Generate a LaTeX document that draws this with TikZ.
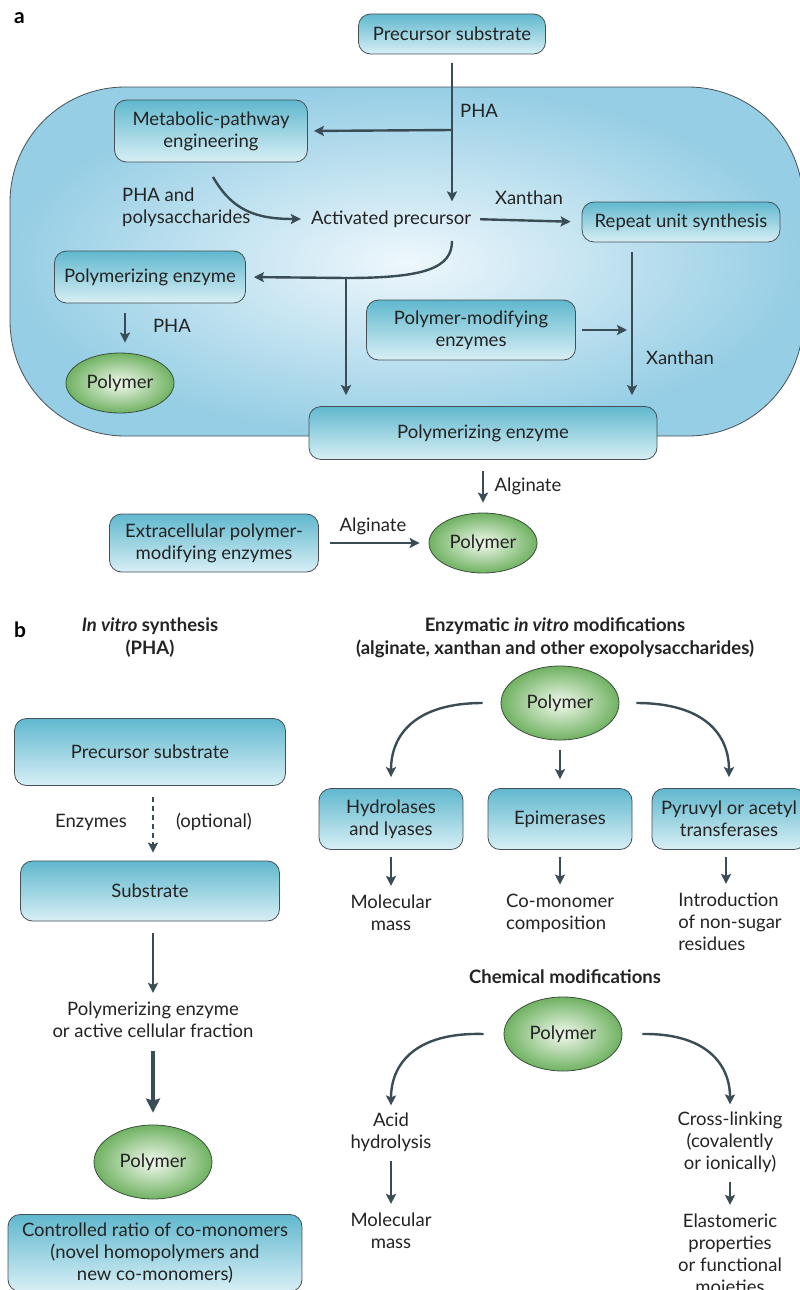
\documentclass[tikz,border=0pt]{standalone}
\usepackage{fontspec}
\setmainfont{Lato}
\usetikzlibrary{shapes.geometric,arrows.meta}
\definecolor{txt}{RGB}{35,35,35}
\definecolor{arrc}{RGB}{58,76,86}
\definecolor{boxtop}{RGB}{96,184,206}
\definecolor{boxbot}{RGB}{216,239,245}
\definecolor{boxline}{RGB}{70,80,85}
\definecolor{cellout}{RGB}{150,206,229}
\definecolor{cellin}{RGB}{238,247,252}
\definecolor{ellin}{RGB}{242,249,238}
\definecolor{ellout}{RGB}{112,178,98}
\definecolor{ellline}{RGB}{60,80,60}
\tikzset{
  box/.style={draw=boxline, line width=0.8pt, rounded corners=12pt, top color=boxtop, bottom color=boxbot, align=center, inner sep=0pt, text=txt},
  poly/.style={ellipse, draw=ellline, line width=0.8pt, inner color=ellin, outer color=ellout, inner sep=0pt, minimum width=108pt, minimum height=60pt, text=txt},
  polyb/.style={poly, minimum width=118pt, minimum height=74pt},
  lbl/.style={inner sep=0pt, text=txt, align=center},
  head/.style={inner sep=0pt, text=txt, align=center, font=\fontsize{18.5}{23}\selectfont\bfseries},
  panel/.style={inner sep=0pt, text=black, font=\fontsize{21}{24}\selectfont\bfseries},
  arr/.style={draw=arrc, line width=2.4pt, -{Stealth[length=10pt,width=10pt,inset=2pt]}},
  thickarr/.style={draw=arrc, line width=4pt, -{Stealth[length=14pt,width=14pt,inset=2pt]}},
  plain/.style={draw=arrc, line width=2.4pt}
}
\begin{document}
\begin{tikzpicture}[x=1pt,y=-1pt, font=\fontsize{18.5}{22}\selectfont]
\clip (0,0) rectangle (800,1290);
\fill[white] (0,0) rectangle (800,1290);

% ---------------- panel a ----------------
\node[panel, anchor=west] (la) at (14,18) {a};
\path[draw=boxline, line width=0.8pt, inner color=cellin, outer color=cellout, rounded corners=115pt]
  (10,87) rectangle (803,436);

\node[box, minimum width=187pt, minimum height=40pt] (ps) at (452,34) {Precursor substrate};
\node[box, minimum width=193pt, minimum height=62pt] (me) at (211,131) {Metabolic-pathway\\engineering};
\node[lbl] (ap) at (391,219) {Activated precursor};
\node[box, minimum width=198pt, minimum height=40pt] (rus) at (681,222) {Repeat unit synthesis};
\node[box, minimum width=191pt, minimum height=52pt] (pe1) at (150,277) {Polymerizing enzyme};
\node[poly] (p1) at (120,383) {Polymer};
\node[box, minimum width=209pt, minimum height=60pt] (pme) at (471,330) {Polymer-modifying\\enzymes};
\node[box, minimum width=348pt, minimum height=53pt] (pe2) at (483,433) {Polymerizing enzyme};
\node[poly] (p2) at (483,543) {Polymer};
\node[box, minimum width=209pt, minimum height=58pt] (epe) at (214,543) {Extracellular polymer-\\modifying enzymes};

\node[lbl, anchor=west] (tpha1) at (460,111) {PHA};
\node[lbl, align=left, anchor=west] (tphap) at (122,207) {PHA and\\polysaccharides};
\node[lbl] (tx1) at (529,198) {Xanthan};
\node[lbl] (tpha2) at (172,326) {PHA};
\node[lbl] (tx2) at (680,358) {Xanthan};
\node[lbl] (tal1) at (528,486) {Alginate};
\node[lbl] (tal2) at (373,526) {Alginate};

\coordinate (j1) at (452,130);
\coordinate (c1) at (213,177);
\coordinate (c2) at (452,241);
\coordinate (j2) at (346,278);
\coordinate (j3) at (632,330);

\draw[arr, shorten <=9pt, shorten >=9pt] (ps.south) -- (ps.south |- ap.north);
\draw[arr, shorten >=6pt] (j1) -- (me.east);
\draw[arr] (c1) .. controls (232,210) and (255,219) .. ([xshift=-10pt]ap.west);
\draw[arr, shorten <=9pt, shorten >=11pt] (ap.east) -- (rus.west);
\draw[plain] (c2) .. controls (452,268) and (425,278) .. (j2);
\draw[arr, shorten >=8pt] (j2) -- (pe1.east);
\draw[arr, shorten >=11pt] (j2) -- (j2 |- pe2.north);
\draw[arr, shorten <=10pt, shorten >=10pt] ([xshift=-25pt]pe1.south) -- ([xshift=5pt]p1.north);
\draw[arr, shorten <=6pt] (pme.east) -- ([xshift=-5pt]j3);
\draw[arr, shorten <=10pt, shorten >=11pt] ([xshift=-49pt]rus.south) -- ([xshift=-49pt]rus.south |- pe2.north);
\draw[arr, shorten <=11pt, shorten >=10pt] (pe2.south) -- (p2.north);
\draw[arr, shorten <=11pt, shorten >=9pt] (epe.east) -- (p2.west);

% ---------------- panel b ----------------
\node[panel, anchor=west] (lb) at (14,630) {b};
\node[head] (h1) at (150,638) {\itshape In vitro\upshape{} synthesis\\(PHA)};
\node[head] (h2) at (555,638) {Enzymatic \itshape in vitro\upshape{} modifications\\(alginate, xanthan and other exopolysaccharides)};

\node[box, minimum width=271pt, minimum height=67pt] (ps2) at (150,752) {Precursor substrate};
\node[box, minimum width=259pt, minimum height=60pt] (sub) at (150,891) {Substrate};
\node[lbl] (tenz) at (91,822) {Enzymes};
\node[lbl] (topt) at (214,822) {(optional)};
\node[lbl] (pz) at (153,1020) {Polymerizing enzyme\\or active cellular fraction};
\node[polyb] (p3) at (153,1162) {Polymer};
\node[box, minimum width=294pt, minimum height=77pt] (ctrl) at (155,1253) {Controlled ratio of co-monomers\\(novel homopolymers and\\new co-monomers)};

\draw[arr, dash pattern=on 5pt off 4pt, shorten <=11pt, shorten >=8pt] ([xshift=3pt]ps2.south) -- ([xshift=3pt]sub.north);
\draw[arr, shorten <=12pt, shorten >=9pt] ([xshift=3pt]sub.south) -- ([xshift=3pt]sub.south |- pz.north);
\draw[thickarr, shorten <=13pt, shorten >=12pt] (pz.south) -- (p3.north);

\node[polyb] (p4) at (560,703) {Polymer};
\node[box, minimum width=144pt, minimum height=61pt] (hl) at (391,819) {Hydrolases\\and lyases};
\node[box, minimum width=144pt, minimum height=61pt] (epi) at (560,819) {Epimerases};
\node[box, minimum width=154pt, minimum height=61pt] (pat) at (729,819) {Pyruvyl or acetyl\\transferases};
\node[lbl] (mm1) at (391,913) {Molecular\\mass};
\node[lbl, align=left, anchor=west] (cmc) at (506,913) {Co-monomer\\composition};
\node[lbl, align=left] (intr) at (730,922) {Introduction\\of non-sugar\\residues};

\draw[arr] ([xshift=-18pt]p4.west) .. controls (415,703) and (391,735) .. ([yshift=11pt]hl.north);
\draw[arr, shorten <=10pt, shorten >=9pt] (p4.south) -- (epi.north);
\draw[arr] ([xshift=17pt]p4.east) .. controls (705,703) and (729,735) .. ([yshift=11pt]pat.north);
\draw[arr, shorten <=7pt, shorten >=9pt] (hl.south) -- (hl.south |- mm1.north);
\draw[arr, shorten <=7pt, shorten >=9pt] (epi.south) -- (epi.south |- cmc.north);
\draw[arr, shorten <=7pt, shorten >=9pt] ([xshift=-3pt]pat.south) -- ([xshift=-3pt]pat.south |- intr.north);

\node[head] (h3) at (565,977) {Chemical modifications};
\node[polyb] (p5) at (563,1034) {Polymer};
\node[lbl] (acid) at (391,1132) {Acid\\hydrolysis};
\node[lbl] (mm2) at (391,1231) {Molecular\\mass};
\node[lbl] (cross) at (730,1142) {Cross-linking\\(covalently\\or ionically)};
\node[lbl] (elas) at (730,1254) {Elastomeric\\properties\\or functional\\moieties};

\draw[arr, shorten >=7pt] ([xshift=-20pt]p5.west) .. controls (414,1032) and (391,1065) .. (acid.north);
\draw[arr, shorten >=7pt] ([xshift=20pt]p5.east) .. controls (707,1033) and (730,1065) .. (cross.north);
\draw[arr, shorten <=9pt, shorten >=9pt] (acid.south) -- (mm2.north);
\draw[arr, shorten <=9pt, shorten >=9pt] (cross.south) -- (elas.north);
\end{tikzpicture}
\end{document}
